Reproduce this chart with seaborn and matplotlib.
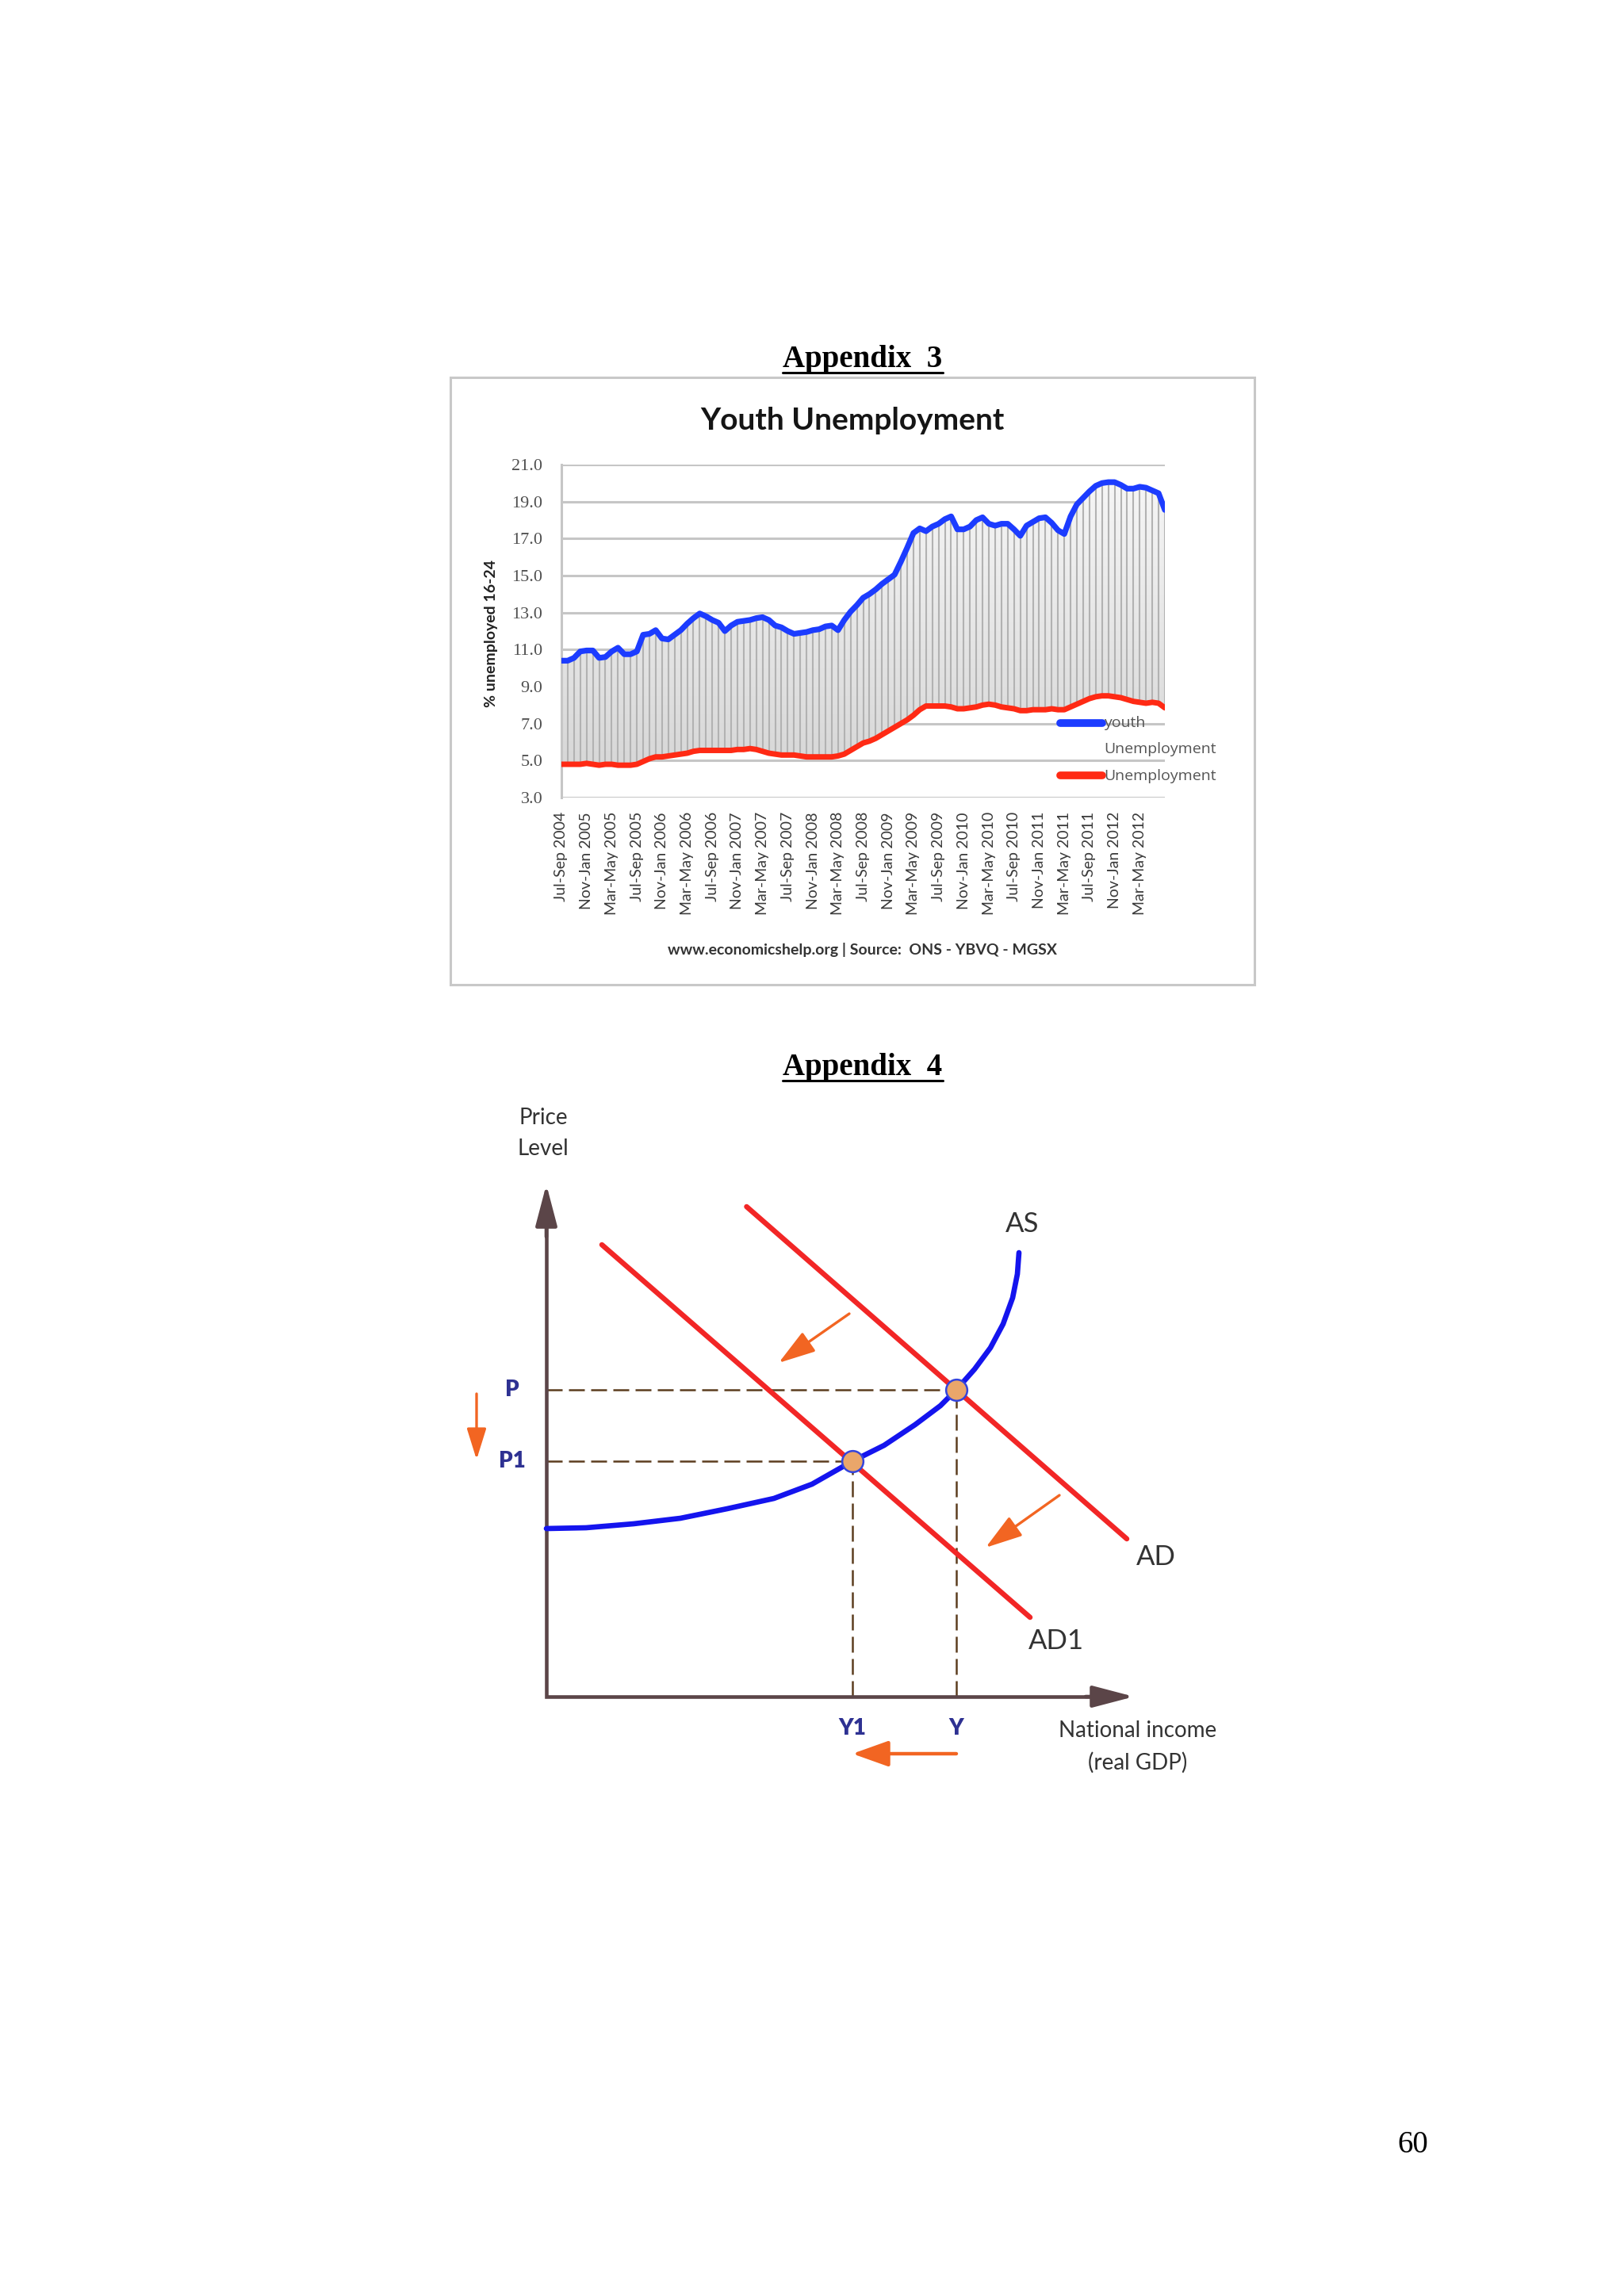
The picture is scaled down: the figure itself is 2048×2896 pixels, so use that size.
import numpy as np
import pandas as pd
import matplotlib
matplotlib.use("Agg")
import matplotlib.pyplot as plt
from matplotlib.lines import Line2D
from matplotlib.patches import Rectangle
from matplotlib.colors import LinearSegmentedColormap
import seaborn as sns

# ---- Appendix 3: youth vs overall unemployment (%), rolling quarters Jul-Sep 2004 .. Jul-Sep 2012
youth = [10.4, 10.4, 10.55, 10.9, 10.95, 10.95, 10.55, 10.6, 10.9, 11.1,
         10.75, 10.75, 10.9, 11.8, 11.85, 12.05, 11.6, 11.55, 11.8, 12.05,
         12.4, 12.7, 12.95, 12.8, 12.6, 12.45, 12.0, 12.3, 12.5, 12.55,
         12.6, 12.7, 12.75, 12.6, 12.3, 12.2, 12.0, 11.85, 11.9, 11.95,
         12.05, 12.1, 12.25, 12.3, 12.05, 12.6, 13.05, 13.4, 13.8, 14.0,
         14.25, 14.55, 14.8, 15.05, 15.75, 16.5, 17.3, 17.55, 17.4, 17.65,
         17.8, 18.05, 18.2, 17.5, 17.5, 17.65, 18.0, 18.15, 17.8, 17.7,
         17.8, 17.8, 17.5, 17.15, 17.7, 17.9, 18.1, 18.15, 17.85, 17.45,
         17.25, 18.2, 18.85, 19.2, 19.55, 19.85, 20.0, 20.05, 20.05, 19.9,
         19.7, 19.7, 19.8, 19.75, 19.6, 19.45, 18.55]
unemp = [4.8, 4.8, 4.8, 4.8, 4.85, 4.8, 4.75, 4.8, 4.8, 4.75,
         4.75, 4.75, 4.8, 4.95, 5.1, 5.2, 5.2, 5.25, 5.3, 5.35,
         5.4, 5.5, 5.55, 5.55, 5.55, 5.55, 5.55, 5.55, 5.6, 5.6,
         5.65, 5.6, 5.5, 5.4, 5.35, 5.3, 5.3, 5.3, 5.25, 5.2,
         5.2, 5.2, 5.2, 5.2, 5.25, 5.35, 5.55, 5.75, 5.95, 6.05,
         6.2, 6.4, 6.6, 6.8, 7.0, 7.2, 7.45, 7.75, 7.95, 7.95,
         7.95, 7.95, 7.9, 7.8, 7.8, 7.85, 7.9, 8.0, 8.05, 8.0,
         7.9, 7.85, 7.8, 7.7, 7.7, 7.75, 7.75, 7.75, 7.8, 7.75,
         7.75, 7.9, 8.05, 8.2, 8.35, 8.45, 8.5, 8.5, 8.45, 8.4,
         8.3, 8.2, 8.15, 8.1, 8.15, 8.1, 7.85]
tick_labels = ["Jul-Sep 2004", "Nov-Jan 2005", "Mar-May 2005", "Jul-Sep 2005",
               "Nov-Jan 2006", "Mar-May 2006", "Jul-Sep 2006", "Nov-Jan 2007",
               "Mar-May 2007", "Jul-Sep 2007", "Nov-Jan 2008", "Mar-May 2008",
               "Jul-Sep 2008", "Nov-Jan 2009", "Mar-May 2009", "Jul-Sep 2009",
               "Nov-Jan 2010", "Mar-May 2010", "Jul-Sep 2010", "Nov-Jan 2011",
               "Mar-May 2011", "Jul-Sep 2011", "Nov-Jan 2012", "Mar-May 2012"]
y_ticks = [3, 5, 7, 9, 11, 13, 15, 17, 19, 21]

# ---- Appendix 4: AD/AS sketch (diagram units, origin at the axes corner)
as_x = [0, 5.0, 11.0, 16.9, 22.8, 28.7, 33.5, 38.6, 42.6, 46.5, 49.7, 51.7,
        54.0, 56.0, 57.6, 58.8, 59.4, 59.6]
as_y = [21.2, 21.3, 21.8, 22.5, 23.7, 25.0, 26.8, 29.7, 31.7, 34.3, 36.7, 38.7,
        41.3, 44.0, 47.0, 50.3, 53.3, 56.0]
ad_x = [25.25, 73.2]
ad_y = [61.8, 19.9]
ad1_x = [7.0, 61.0]
ad1_y = [57.0, 10.0]
eq_x = [51.7, 38.6]
eq_y = [38.7, 29.7]
p_labels = ["P", "P1"]
q_labels = ["Y", "Y1"]
shift_from = [(38.2, 48.3), (64.7, 25.4)]
shift_to = [(29.3, 42.1), (55.4, 18.8)]

W, H = 2048, 2896
def fx(px):
    return px / W
def fy(py):
    return 1 - py / H

sns.set_theme(style="white")
plt.rcParams['font.family'] = ['Lato', 'DejaVu Sans']

fig = plt.figure(figsize=(20.48, 28.96), dpi=100)
fig.patch.set_facecolor("white")

def heading(txt, x, y_base):
    t = fig.text(fx(x), fy(y_base), txt, ha="center", va="baseline", fontsize=28,
                 fontweight="bold", family="Liberation Serif", color="black")
    fig.canvas.draw()
    bb = t.get_window_extent()
    fig.add_artist(Line2D([bb.x0 / W, bb.x1 / W], [fy(y_base + 7)] * 2,
                          transform=fig.transFigure, color="black", lw=2.2))

heading("Appendix  3", 1088, 463)
heading("Appendix  4", 1088, 1356)

# chart frame
fig.add_artist(Rectangle((fx(568), fy(1242)), (1582 - 568) / W, (1242 - 476) / H,
                         transform=fig.transFigure, fill=False, ec="#c8c8c8", lw=2.2))
fig.text(fx(1075), fy(531), "Youth Unemployment", ha="center", va="center",
         fontsize=28, fontweight="bold", color="#151515")

ax = fig.add_axes([fx(708), fy(1006), 761 / W, 420 / H])
ax.set_facecolor("none")
months = np.arange(len(youth))
df = pd.DataFrame({"month": months, "youth": youth, "unemp": unemp})

band = ax.fill_between(df["month"], df["unemp"], df["youth"], color="none", lw=0)
grey = LinearSegmentedColormap.from_list("g", ["#d4d4d4", "#f8f8f8"])
im = ax.imshow(np.linspace(0, 1, 256).reshape(-1, 1), extent=[0, 96, 3, 21],
               origin="lower", aspect="auto", cmap=grey, zorder=1)
im.set_clip_path(band.get_paths()[0], transform=ax.transData)
ax.vlines(df["month"], df["unemp"], df["youth"], colors="#b2b2b2", linewidth=1.5, zorder=2)
sns.lineplot(data=df, x="month", y="unemp", color="#ff2a14", linewidth=5, ax=ax, zorder=4)
sns.lineplot(data=df, x="month", y="youth", color="#1c3cff", linewidth=5.2, ax=ax, zorder=5)

ax.set_xlim(0, 96)
ax.set_ylim(3, 21)
ax.set_yticks(y_ticks)
ax.set_yticklabels([f"{v:.1f}" for v in y_ticks], family="Liberation Serif", fontsize=16, color="#505050")
ax.set_xticks(months[:len(tick_labels) * 4:4])
ax.set_xticklabels(tick_labels, rotation=90, fontsize=14, color="#3a3a3a", va="top")
ax.tick_params(axis="x", length=0, pad=13)
ax.tick_params(axis="y", length=5, width=2, color="#c6c6c6", pad=12)
ax.yaxis.grid(True, color="#c6c6c6", linewidth=2.2)
ax.xaxis.grid(False)
ax.set_axisbelow(True)
for s in ["top", "right", "bottom"]:
    ax.spines[s].set_visible(False)
ax.spines["left"].set_color("#c6c6c6")
ax.spines["left"].set_linewidth(2.2)
ax.set_xlabel("")
ax.set_ylabel("")

fig.text(fx(619), fy(799), "% unemployed 16-24", rotation=90, ha="center", va="center",
         fontsize=14, fontweight="bold", color="#222222")
fig.text(fx(1088), fy(1198), "www.economicshelp.org | Source:  ONS - YBVQ - MGSX",
         ha="center", va="center", fontsize=14, fontweight="bold", color="#333333")

# legend
fig.add_artist(Line2D([fx(1337), fx(1390)], [fy(912)] * 2, transform=fig.transFigure,
                      color="#1c3cff", lw=7))
fig.add_artist(Line2D([fx(1337), fx(1390)], [fy(978)] * 2, transform=fig.transFigure,
                      color="#ff2a14", lw=7))
for txt, yy in [("youth", 912), ("Unemployment", 945), ("Unemployment", 979)]:
    fig.text(fx(1392), fy(yy), txt, ha="left", va="center", fontsize=14,
             family="Open Sans", color="#555555")

# ---- AD/AS diagram
ax2 = fig.add_axes([fx(569), fy(2260), 1020 / W, 920 / H])
ax2.set_xlim(-12, 90)
ax2.set_ylim(-12, 80)
ax2.axis("off")

axis_col = "#5b4548"
ax2.plot([0, 0, 70], [61, 0, 0], color=axis_col, lw=3.3, solid_joinstyle="miter", zorder=2)
ax2.annotate("", xy=(0, 64.6), xytext=(0, 58),
             arrowprops=dict(arrowstyle="-|>,head_length=1.6,head_width=0.42", mutation_scale=20,
                             color=axis_col, lw=3.3, shrinkA=0, shrinkB=0))
ax2.annotate("", xy=(74.1, 0), xytext=(68, 0),
             arrowprops=dict(arrowstyle="-|>,head_length=1.6,head_width=0.42", mutation_scale=20,
                             color=axis_col, lw=3.3, shrinkA=0, shrinkB=0))

dash_col = "#5c3d1f"
ax2.hlines(eq_y, 0, eq_x, colors=dash_col, linestyles=[(0, (8, 3.2))], lw=1.8, zorder=1)
ax2.vlines(eq_x, 0, eq_y, colors=dash_col, linestyles=[(0, (8, 3.2))], lw=1.8, zorder=1)

sns.lineplot(x=ad_x, y=ad_y, ax=ax2, color="#f22626", lw=4.7, zorder=3)
sns.lineplot(x=ad1_x, y=ad1_y, ax=ax2, color="#f22626", lw=4.7, zorder=3)
sns.lineplot(x=as_x, y=as_y, ax=ax2, color="#1414ee", lw=4.8, zorder=4, sort=False)
sns.scatterplot(x=eq_x, y=eq_y, ax=ax2, s=370, color="#eaa66a", edgecolor="#3344dd",
                linewidth=1.8, zorder=6)

orange = "#f26522"
for a, b in zip(shift_from, shift_to):
    ax2.annotate("", xy=b, xytext=a,
                 arrowprops=dict(arrowstyle="-|>,head_length=1.9,head_width=0.6", mutation_scale=15,
                                 color=orange, lw=2.4, shrinkA=0, shrinkB=0))
ax2.annotate("", xy=(-8.8, 29.9), xytext=(-8.8, 38.2),
             arrowprops=dict(arrowstyle="-|>,head_length=1.6,head_width=0.5", mutation_scale=15,
                             color=orange, lw=2.4, shrinkA=0, shrinkB=0))
ax2.annotate("", xy=(eq_x[1], -7.2), xytext=(eq_x[0], -7.2),
             arrowprops=dict(arrowstyle="-|>,head_length=1.4,head_width=0.5", mutation_scale=20,
                             color=orange, lw=3.2, shrinkA=0, shrinkB=0))

lab_col = "#2e3192"
for lab, yv in zip(p_labels, eq_y):
    ax2.text(-4.3, yv, lab, ha="center", va="center", fontsize=20, fontweight="heavy", color=lab_col)
for lab, xv in zip(q_labels, eq_x):
    ax2.text(xv, -4.0, lab, ha="center", va="center", fontsize=20, fontweight="heavy", color=lab_col)

txt_col = "#333333"
ax2.text(-0.4, 73.0, "Price", ha="center", va="center", fontsize=20, color=txt_col)
ax2.text(-0.4, 69.1, "Level", ha="center", va="center", fontsize=20, color=txt_col)
ax2.text(74.6, -4.3, "National income", ha="center", va="center", fontsize=20, color=txt_col)
ax2.text(74.6, -8.3, "(real GDP)", ha="center", va="center", fontsize=20, color=txt_col)
ax2.text(60.0, 59.6, "AS", ha="center", va="center", fontsize=25, color=txt_col)
ax2.text(76.9, 17.6, "AD", ha="center", va="center", fontsize=25, color=txt_col)
ax2.text(64.3, 7.0, "AD1", ha="center", va="center", fontsize=25, color=txt_col)

fig.text(fx(1782), fy(2715), "60", ha="center", va="baseline", fontsize=28,
         family="Liberation Serif", color="black")

fig.savefig("out.png", dpi=100)
